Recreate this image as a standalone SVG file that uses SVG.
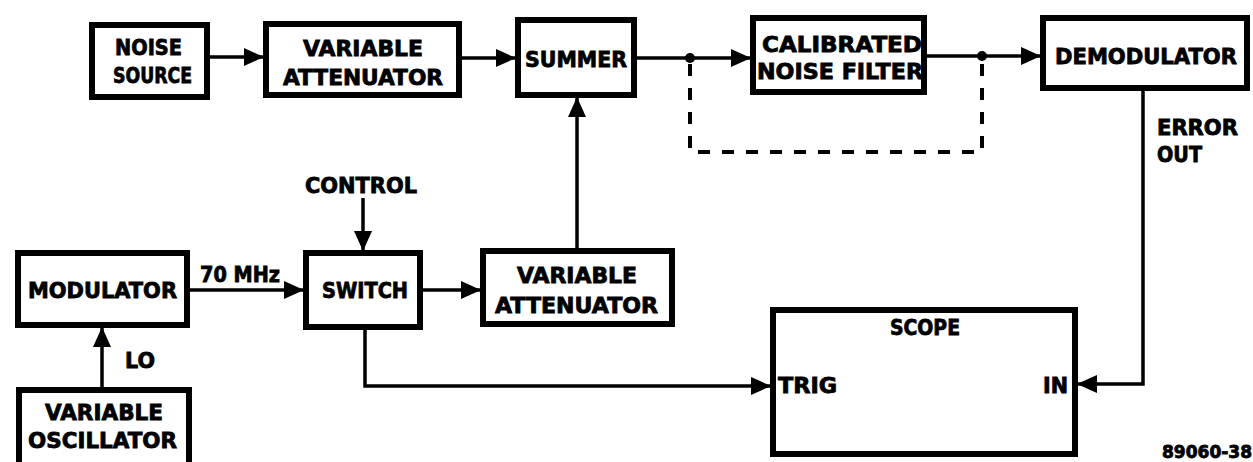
<svg xmlns="http://www.w3.org/2000/svg" width="1253" height="462" viewBox="0 0 1253 462">
<style>
.box{fill:#fff;stroke:#000;stroke-width:6}
.t{font-family:"DejaVu Sans","Liberation Sans",sans-serif;font-weight:bold;font-size:21px;fill:#000;stroke:#000;stroke-width:0.8}
.ln{fill:none;stroke:#000;stroke-width:3.5}
.dash{fill:none;stroke:#000;stroke-width:4;stroke-dasharray:12 12}
</style>
<defs>
<marker id="ah" markerUnits="userSpaceOnUse" markerWidth="20" markerHeight="18" refX="19" refY="9" orient="auto">
<path d="M0,0 L20,9 L0,18 Z" fill="#000"/>
</marker>
</defs>
<rect width="1253" height="462" fill="#fff"/>
<g id="connectors">
<line class="ln" x1="209" y1="57" x2="263" y2="57" marker-end="url(#ah)"/>
<line class="ln" x1="462" y1="58" x2="515" y2="58" marker-end="url(#ah)"/>
<line class="ln" x1="637" y1="58" x2="750" y2="58" marker-end="url(#ah)"/>
<line class="ln" x1="927" y1="56" x2="1040" y2="56" marker-end="url(#ah)"/>
<circle cx="690" cy="58" r="5"/>
<circle cx="982" cy="56" r="5"/>
<polyline class="dash" points="690,64 690,152 982,152 982,62"/>
<line class="ln" x1="577" y1="248" x2="577" y2="98" marker-end="url(#ah)"/>
<line class="ln" x1="363" y1="198" x2="363" y2="250" marker-end="url(#ah)"/>
<line class="ln" x1="190" y1="290" x2="303" y2="290" marker-end="url(#ah)"/>
<line class="ln" x1="423" y1="290" x2="480" y2="290" marker-end="url(#ah)"/>
<line class="ln" x1="102" y1="387" x2="102" y2="328" marker-end="url(#ah)"/>
<polyline class="ln" points="365,330 365,386 770,386" marker-end="url(#ah)"/>
<polyline class="ln" points="1143,91 1143,384 1078,384" marker-end="url(#ah)"/>
</g>
<g id="noise-source">
<rect class="box" x="92" y="25" width="115" height="72"/>
<text class="t" x="115" y="55" textLength="67" lengthAdjust="spacingAndGlyphs">NOISE</text>
<text class="t" x="113" y="83" textLength="79" lengthAdjust="spacingAndGlyphs">SOURCE</text>
</g>
<g id="variable-attenuator-top">
<rect class="box" x="266" y="24" width="193" height="71"/>
<text class="t" x="303" y="56" textLength="120" lengthAdjust="spacingAndGlyphs">VARIABLE</text>
<text class="t" x="283" y="85" textLength="160" lengthAdjust="spacingAndGlyphs">ATTENUATOR</text>
</g>
<g id="summer">
<rect class="box" x="518" y="20" width="116" height="75"/>
<text class="t" x="525" y="67" textLength="102" lengthAdjust="spacingAndGlyphs">SUMMER</text>
</g>
<g id="calibrated-noise-filter">
<rect class="box" x="753" y="18" width="171" height="74"/>
<text class="t" x="762" y="52" textLength="160" lengthAdjust="spacingAndGlyphs">CALIBRATED</text>
<text class="t" x="757" y="79" textLength="166" lengthAdjust="spacingAndGlyphs">NOISE FILTER</text>
</g>
<g id="demodulator">
<rect class="box" x="1043" y="18" width="204" height="70"/>
<text class="t" x="1055" y="64" textLength="182" lengthAdjust="spacingAndGlyphs">DEMODULATOR</text>
</g>
<g id="error-out-label">
<text class="t" x="1157" y="135" textLength="81" lengthAdjust="spacingAndGlyphs">ERROR</text>
<text class="t" x="1157" y="162" textLength="45" lengthAdjust="spacingAndGlyphs">OUT</text>
</g>
<g id="control-label">
<text class="t" x="305" y="193" textLength="112" lengthAdjust="spacingAndGlyphs">CONTROL</text>
</g>
<g id="modulator">
<rect class="box" x="18" y="253" width="169" height="72"/>
<text class="t" x="28" y="298" textLength="149" lengthAdjust="spacingAndGlyphs">MODULATOR</text>
</g>
<g id="freq-label">
<text class="t" x="200" y="282" textLength="80" lengthAdjust="spacingAndGlyphs">70 MHz</text>
</g>
<g id="switch">
<rect class="box" x="306" y="253" width="114" height="74"/>
<text class="t" x="322" y="298" textLength="86" lengthAdjust="spacingAndGlyphs">SWITCH</text>
</g>
<g id="variable-attenuator-bottom">
<rect class="box" x="483" y="251" width="189" height="73"/>
<text class="t" x="517" y="283" textLength="120" lengthAdjust="spacingAndGlyphs">VARIABLE</text>
<text class="t" x="495" y="313" textLength="163" lengthAdjust="spacingAndGlyphs">ATTENUATOR</text>
</g>
<g id="lo-label">
<text class="t" x="125" y="368" textLength="30" lengthAdjust="spacingAndGlyphs">LO</text>
</g>
<g id="variable-oscillator">
<rect class="box" x="19" y="390" width="170" height="80"/>
<text class="t" x="45" y="420" textLength="118" lengthAdjust="spacingAndGlyphs">VARIABLE</text>
<text class="t" x="28" y="448" textLength="149" lengthAdjust="spacingAndGlyphs">OSCILLATOR</text>
</g>
<g id="scope">
<rect class="box" x="773" y="310" width="302" height="144"/>
<text class="t" x="890" y="335" textLength="70" lengthAdjust="spacingAndGlyphs">SCOPE</text>
<text class="t" x="778" y="393" textLength="59" lengthAdjust="spacingAndGlyphs">TRIG</text>
<text class="t" x="1043" y="393" textLength="25" lengthAdjust="spacingAndGlyphs">IN</text>
</g>
<g id="figure-number">
<text class="t" x="1162" y="458" textLength="90" lengthAdjust="spacingAndGlyphs" style="font-size:17px">89060-38</text>
</g>
</svg>
